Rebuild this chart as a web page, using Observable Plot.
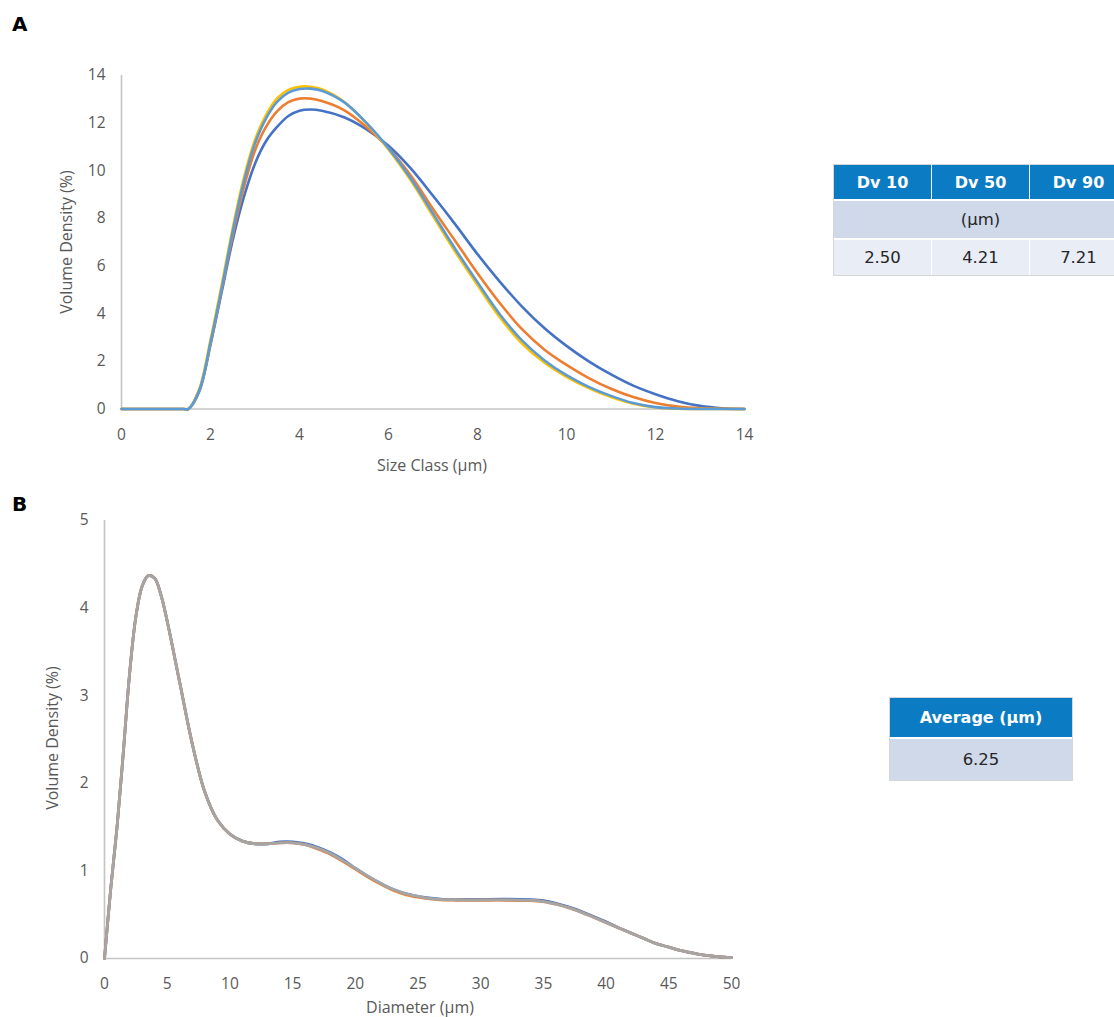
<!DOCTYPE html>
<html><head><meta charset="utf-8">
<script src="https://cdn.jsdelivr.net/npm/d3@7"></script>
<script src="https://cdn.jsdelivr.net/npm/@observablehq/plot@0.6"></script>
<style>
html,body{margin:0;padding:0;background:#fff;}
body{width:1114px;height:1017px;position:relative;overflow:hidden;font-family:"Open Sans",sans-serif;}
.abs{position:absolute;}
.panel{font-family:"DejaVu Sans",sans-serif;font-size:20px;font-weight:bold;color:#000;}
.atitle{font-family:"Open Sans",sans-serif;font-size:16px;color:#595959;white-space:nowrap;}
.cell{position:absolute;box-sizing:border-box;display:flex;align-items:center;justify-content:center;font-family:"DejaVu Sans",sans-serif;}
.hd{background:#0b7bc3;color:#fff;font-weight:bold;font-size:16px;}
.r2{background:#cfd9ea;color:#262626;font-size:16.5px;}
.r3{background:#e8edf6;color:#262626;font-size:16.5px;}
</style></head><body>
<script>
// ---------- Panel A data ----------
const sizeClassA = [0,1,1.4,1.5,1.75,2,2.25,2.5,2.75,3,3.25,3.5,3.75,4,4.25,4.5,5,5.5,6,6.5,7,7.5,8,8.5,9,9.5,10,10.5,11,11.5,12,12.5,13,13.5,14];
const blueA      = [0,0,0,0,0.75,2.7,4.9,7.1,8.9,10.3,11.25,11.85,12.3,12.52,12.57,12.52,12.25,11.75,11.05,10.1,8.95,7.75,6.5,5.35,4.3,3.4,2.65,2.0,1.45,0.98,0.62,0.33,0.13,0.03,0];
const orangeA    = [0,0,0,0,0.8,2.75,5.0,7.3,9.3,10.85,11.85,12.5,12.88,13.03,13.03,12.93,12.55,11.85,10.95,9.8,8.4,7.05,5.7,4.45,3.35,2.5,1.85,1.3,0.85,0.5,0.25,0.1,0.03,0.01,0];
const yellowA    = [0,0,0,0,0.85,2.9,5.2,7.6,9.7,11.3,12.35,13.05,13.4,13.53,13.53,13.42,12.9,12.0,10.9,9.6,8.1,6.6,5.2,3.85,2.75,1.95,1.35,0.88,0.5,0.22,0.06,0.01,0,0,0];
const lightBlueA = [0,0,0,0,0.8,2.8,5.05,7.45,9.55,11.15,12.2,12.9,13.28,13.43,13.45,13.36,12.88,12.02,10.95,9.68,8.2,6.72,5.32,3.98,2.88,2.05,1.42,0.93,0.55,0.25,0.08,0.02,0,0,0];
const seriesA = ["Measurement 1","Measurement 2","Measurement 3","Measurement 4"];
const colorsA = ["#4472C4","#ED7D31","#FFC000","#5B9BD5"];
const ticksAX = [0,2,4,6,8,10,12,14];
const ticksAY = [0,2,4,6,8,10,12,14];

// ---------- Panel B data ----------
const diameterB = [0,0.5,1,1.5,2,2.5,3,3.5,4,4.5,5,6,7,8,9,10,11,12,13,14,15,16,17,18,19,20,21,22,23,24,25,26,27,28,30,32,34,35,36,37,38,39,40,41,42,43,44,45,46,47,48,49,50];
const blueB   = [0,0.8,1.5,2.35,3.25,3.9,4.25,4.37,4.34,4.15,3.85,3.15,2.45,1.9,1.58,1.42,1.34,1.31,1.31,1.33,1.33,1.31,1.27,1.21,1.13,1.03,0.94,0.86,0.79,0.74,0.71,0.69,0.675,0.672,0.675,0.677,0.672,0.66,0.63,0.59,0.54,0.48,0.42,0.35,0.29,0.23,0.17,0.13,0.09,0.06,0.035,0.02,0.01];
const orangeB = [0,0.8,1.5,2.35,3.25,3.9,4.25,4.37,4.34,4.15,3.85,3.15,2.45,1.9,1.58,1.42,1.34,1.31,1.31,1.32,1.32,1.3,1.25,1.19,1.11,1.02,0.93,0.85,0.78,0.73,0.70,0.68,0.668,0.665,0.665,0.665,0.66,0.65,0.62,0.58,0.53,0.47,0.41,0.35,0.29,0.23,0.17,0.13,0.09,0.06,0.035,0.02,0.01];
const grayB   = [0,0.8,1.5,2.35,3.25,3.9,4.25,4.37,4.34,4.15,3.85,3.15,2.45,1.9,1.58,1.42,1.34,1.31,1.31,1.32,1.32,1.3,1.26,1.2,1.12,1.03,0.94,0.86,0.79,0.74,0.71,0.685,0.672,0.668,0.668,0.67,0.664,0.65,0.62,0.58,0.53,0.47,0.41,0.35,0.29,0.23,0.17,0.13,0.09,0.06,0.035,0.02,0.01];
const seriesB = ["Measurement 1","Measurement 2","Measurement 3"];
const colorsB = ["#4472C4","#ED7D31","#A5A5A5"];
const ticksBX = [0,5,10,15,20,25,30,35,40,45,50];
const ticksBY = [0,1,2,3,4,5];

// ---------- Tables ----------
const dvHeaders = ["Dv 10","Dv 50","Dv 90"];
const dvUnit = "(µm)";
const dvValues = ["2.50","4.21","7.21"];
const avgHeader = "Average (µm)";
const avgValue = "6.25";

// ---------- build tidy tables ----------
const valuesA = [blueA, orangeA, yellowA, lightBlueA];
const dataA = [];
seriesA.forEach((s,i) => sizeClassA.forEach((x,j) => dataA.push({series:s, x, v:valuesA[i][j]})));
const valuesB = [blueB, orangeB, grayB];
const dataB = [];
seriesB.forEach((s,i) => diameterB.forEach((x,j) => dataB.push({series:s, x, v:valuesB[i][j]})));

const axisStyle = {fontFamily:"Open Sans", fontSize:"15.5px", color:"#595959", background:"transparent", overflow:"visible"};
const fmt = d => String(d);

function place(el, left, top){
  const w = document.createElement("div");
  w.className = "abs"; w.style.left = left+"px"; w.style.top = top+"px";
  w.appendChild(el); document.body.appendChild(w); return w;
}
function text(str, cls, left, top, extra){
  const d = document.createElement("div");
  d.className = "abs " + cls; d.textContent = str;
  d.style.left = left+"px"; d.style.top = top+"px";
  if (extra) Object.assign(d.style, extra);
  document.body.appendChild(d); return d;
}

// ---------- Chart A ----------
const chartA = Plot.plot({
  width: 760, height: 490,
  marginLeft: 121, marginRight: 16, marginTop: 75, marginBottom: 81.5,
  style: axisStyle,
  x: {domain:[0,14]},
  y: {domain:[0,14]},
  color: {domain: seriesA, range: colorsA},
  marks: [
    Plot.ruleY([0], {stroke:"#c4c4c4", strokeWidth:1.6}),
    Plot.ruleX([0], {stroke:"#c4c4c4", strokeWidth:1.6}),
    Plot.axisX(ticksAX, {tickSize:0, tickPadding:20, label:null, fontSize:15.5, tickFormat:fmt}),
    Plot.axisY(ticksAY, {tickSize:0, tickPadding:16, label:null, fontSize:15.5, tickFormat:fmt}),
    Plot.line(dataA, {x:"x", y:"v", z:"series", stroke:"series", curve:"catmull-rom", strokeWidth:2.6})
  ]
});
place(chartA, 0, 0);

// ---------- Chart B ----------
const chartB = Plot.plot({
  width: 760, height: 527,
  marginLeft: 104, marginRight: 29, marginTop: 30, marginBottom: 59,
  style: axisStyle,
  x: {domain:[0,50]},
  y: {domain:[0,5]},
  color: {domain: seriesB, range: colorsB},
  marks: [
    Plot.ruleY([0], {stroke:"#c4c4c4", strokeWidth:1.6}),
    Plot.ruleX([0], {stroke:"#c4c4c4", strokeWidth:1.6}),
    Plot.axisX(ticksBX, {tickSize:0, tickPadding:19, label:null, fontSize:15.5, tickFormat:fmt}),
    Plot.axisY(ticksBY, {tickSize:0, tickPadding:16, label:null, fontSize:15.5, tickFormat:fmt}),
    Plot.line(dataB, {x:"x", y:"v", z:"series", stroke:"series", curve:"catmull-rom", strokeWidth:2.8})
  ]
});
place(chartB, 0, 490);

// ---------- panel letters & axis titles ----------
text("A", "panel", 12, 12);
text("B", "panel", 12, 492);
text("Size Class (µm)", "atitle", 432, 465, {transform:"translate(-50%,-50%)"});
text("Volume Density (%)", "atitle", 66, 242, {transform:"translate(-50%,-50%) rotate(-90deg)"});
text("Diameter (µm)", "atitle", 420, 1007, {transform:"translate(-50%,-50%)"});
text("Volume Density (%)", "atitle", 52, 738, {transform:"translate(-50%,-50%) rotate(-90deg)"});

// ---------- tables ----------
function cell(str, cls, left, top, w, h){
  const d = document.createElement("div");
  d.className = "cell " + cls; d.textContent = str;
  Object.assign(d.style, {left:left+"px", top:top+"px", width:w+"px", height:h+"px"});
  document.body.appendChild(d); return d;
}
const bA = document.createElement("div");
bA.className = "abs";
Object.assign(bA.style, {left:"833px", top:"164px", width:"300px", height:"112px", border:"1px solid #d6d6d6", boxSizing:"border-box"});
document.body.appendChild(bA);
const colX = [834, 932, 1030];
const colW = [97, 97, 97];
dvHeaders.forEach((h,i) => cell(h, "hd", colX[i], 165, colW[i], 34));
cell(dvUnit, "r2", 834, 201, 293, 37);
dvValues.forEach((v,i) => cell(v, "r3", colX[i], 240, colW[i], 35));

const bB = document.createElement("div");
bB.className = "abs";
Object.assign(bB.style, {left:"889px", top:"697px", width:"184px", height:"84px", border:"1px solid #d6d6d6", boxSizing:"border-box"});
document.body.appendChild(bB);
cell(avgHeader, "hd", 890, 698, 182, 39);
cell(avgValue, "r2", 890, 739, 182, 41);
</script>
</body></html>
